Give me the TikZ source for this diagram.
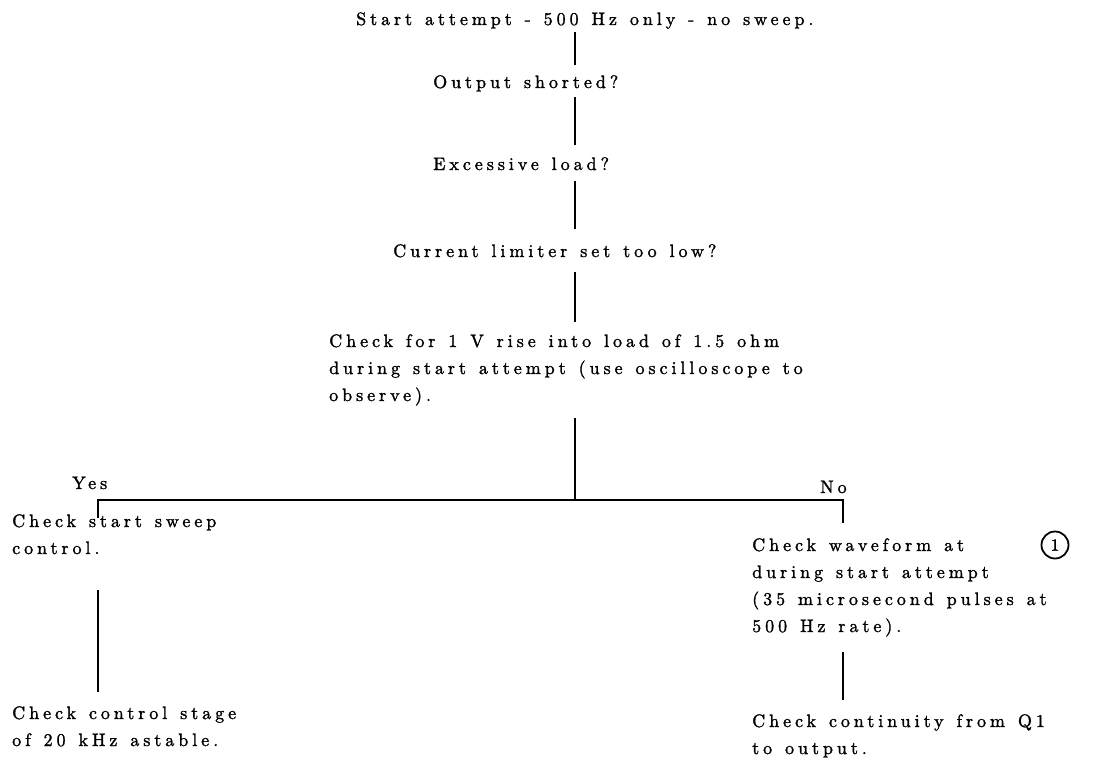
\documentclass[tikz,border=0pt]{standalone}
\usepackage{fontspec}
\setmainfont{lmroman10-regular.otf}[LetterSpace=22, WordSpace=1.3, FakeBold=1.5]
\newfontfamily\plainlm{lmroman10-regular.otf}[FakeBold=1.5]
\usetikzlibrary{calc}
\tikzset{
  txt/.style={inner sep=0pt, anchor=base west, font=\fontsize{18}{27}\selectfont},
  conn/.style={line width=2.6pt},
}
\newcommand\blk[1]{\begin{tabular}[t]{@{}l@{}}#1\end{tabular}}
\begin{document}
\begin{tikzpicture}[x=1pt,y=-1pt]
\useasboundingbox[fill=white] (0,0) rectangle (1106,760);
\node[txt] (t0) at (356,25) {Start attempt - 500 Hz only - no sweep.};
\node[txt] (t1) at (433,88) {Output shorted?};
\node[txt] (t2) at (433,170) {Excessive load?};
\node[txt] (t3) at (393,257) {Current limiter set too low?};
\node[txt] (t4) at (329,347) {\blk{Check for 1 V rise into load of 1.5 ohm\\ during start attempt (use oscilloscope to\\ observe).}};
\node[txt] (yes) at (72,489) {Yes};
\node[txt] (no) at (820,493) {No};
\node[txt] (t5) at (12,527) {\blk{Check start sweep\\ control.}};
\node[txt] (t6) at (12,719) {\blk{Check control stage\\ of 20 kHz astable.}};
\node[txt] (t7) at (752,551) {\blk{Check waveform at\\ during start attempt\\ (35 microsecond pulses at\\ 500 Hz rate).}};
\node[txt] (t8) at (752,727) {\blk{Check continuity from Q1\\ to output.}};
\node[circle, draw, line width=1.8pt, minimum size=27pt, inner sep=0pt, font=\fontsize{17}{27}\plainlm] (c1) at (1055,545) {1};
\coordinate (jc) at (575,500);
\coordinate (jl) at (98,500);
\coordinate (jr) at (843,500);
\draw[conn] ($(t0.base -| jc)+(0,7)$) -- ($(t1.base -| jc)+(0,-23)$);
\draw[conn] ($(t1.base -| jc)+(0,9)$) -- ($(t2.base -| jc)+(0,-25)$);
\draw[conn] ($(t2.base -| jc)+(0,11)$) -- ($(t3.base -| jc)+(0,-28)$);
\draw[conn] ($(t3.base -| jc)+(0,15)$) -- ($(t4.base -| jc)+(0,-25)$);
\draw[conn] ($(t4.base -| jc)+(0,71)$) -- (jc);
\draw[conn] ($(t5.base -| jl)+(0,-9)$) -- (jl) -- (jr) -- ($(t7.base -| jr)+(0,-28)$);
\draw[conn] ($(t5.base -| jl)+(0,63)$) -- ($(t6.base -| jl)+(0,-27)$);
\draw[conn] ($(t7.base -| jr)+(0,101)$) -- ($(t8.base -| jr)+(0,-27)$);
\end{tikzpicture}
\end{document}
